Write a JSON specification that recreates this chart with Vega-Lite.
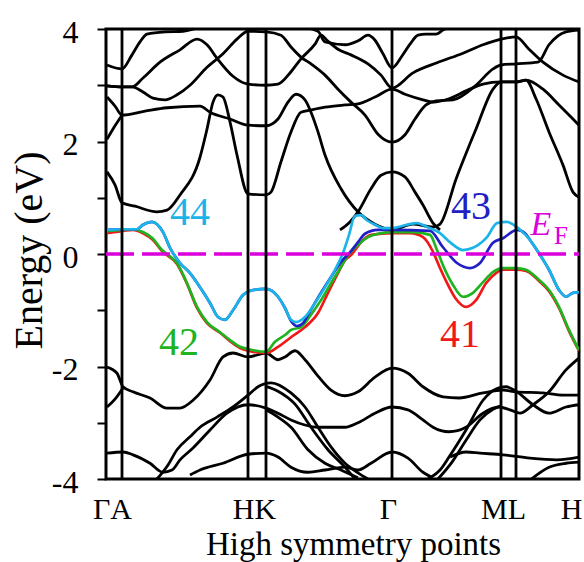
{
"$schema": "https://vega.github.io/schema/vega-lite/v6.json",
"width": 473, "height": 450,
"autosize": {"type": "none"},
"padding": {"left": 106, "top": 29, "right": 5, "bottom": 83},
"background": "white",
"config": {"view": {"stroke": "black", "strokeWidth": 3}},
"datasets": {
"bk": [
{"band":"c1","k":1,"e":1.46},{"band":"c1","k":9,"e":1.23},{"band":"c1","k":16,"e":0.91},{"band":"c1","k":29,"e":0.85},{"band":"c1","k":51,"e":0.75},{"band":"c1","k":61,"e":0.78},{"band":"c1","k":74,"e":1.05},{"band":"c1","k":94,"e":1.72},{"band":"c1","k":101,"e":2.22},{"band":"c1","k":107,"e":2.70},{"band":"c1","k":112,"e":2.83},{"band":"c1","k":117,"e":2.79},{"band":"c1","k":124,"e":2.35},{"band":"c1","k":131,"e":1.76},{"band":"c1","k":142,"e":1.07},{"band":"c1","k":160,"e":1.05},{"band":"c1","k":165,"e":1.10},{"band":"c1","k":175,"e":1.64},{"band":"c1","k":185,"e":2.17},{"band":"c1","k":195,"e":2.52},{"band":"c1","k":205,"e":2.56},{"band":"c1","k":219,"e":2.61},{"band":"c1","k":239,"e":2.65},{"band":"c1","k":252,"e":2.67},{"band":"c1","k":269,"e":2.79},{"band":"c1","k":286,"e":2.93},{"band":"c1","k":299,"e":2.84},{"band":"c1","k":317,"e":2.74},{"band":"c1","k":327,"e":2.70},{"band":"c1","k":343,"e":2.76},{"band":"c1","k":360,"e":2.90},{"band":"c1","k":377,"e":3.02},{"band":"c1","k":395,"e":3.06},{"band":"c1","k":410,"e":3.06},{"band":"c1","k":420,"e":3.09},{"band":"c1","k":430,"e":2.76},{"band":"c1","k":443,"e":2.17},{"band":"c1","k":457,"e":1.58},{"band":"c1","k":467,"e":1.10},{"band":"c1","k":473,"e":1.01},
{"band":"c2","k":1,"e":2.79},{"band":"c2","k":9,"e":2.63},{"band":"c2","k":16,"e":2.47},{"band":"c2","k":39,"e":2.54},{"band":"c2","k":61,"e":2.60},{"band":"c2","k":94,"e":2.63},{"band":"c2","k":104,"e":2.52},{"band":"c2","k":124,"e":2.40},{"band":"c2","k":142,"e":2.29},{"band":"c2","k":160,"e":2.28},{"band":"c2","k":172,"e":2.40},{"band":"c2","k":182,"e":2.70},{"band":"c2","k":190,"e":2.84},{"band":"c2","k":199,"e":2.74},{"band":"c2","k":205,"e":2.52},{"band":"c2","k":212,"e":2.17},{"band":"c2","k":219,"e":1.76},{"band":"c2","k":235,"e":1.16},{"band":"c2","k":252,"e":0.75},{"band":"c2","k":269,"e":0.53},{"band":"c2","k":286,"e":0.43},{"band":"c2","k":307,"e":0.53},{"band":"c2","k":327,"e":0.48},{"band":"c2","k":334,"e":0.53},{"band":"c2","k":350,"e":1.33},{"band":"c2","k":370,"e":2.22},{"band":"c2","k":387,"e":2.93},{"band":"c2","k":395,"e":3.06},{"band":"c2","k":410,"e":3.06},{"band":"c2","k":420,"e":3.09},{"band":"c2","k":437,"e":2.93},{"band":"c2","k":453,"e":2.65},{"band":"c2","k":467,"e":2.40},{"band":"c2","k":473,"e":2.29},
{"band":"c3","k":1,"e":2.04},{"band":"c3","k":9,"e":2.28},{"band":"c3","k":16,"e":2.47},
{"band":"c4","k":1,"e":2.99},{"band":"c4","k":16,"e":2.97},{"band":"c4","k":26,"e":2.97},{"band":"c4","k":37,"e":2.88},{"band":"c4","k":47,"e":2.77},{"band":"c4","k":59,"e":2.74},{"band":"c4","k":71,"e":2.83},{"band":"c4","k":84,"e":3.00},{"band":"c4","k":101,"e":3.32},{"band":"c4","k":117,"e":3.56},{"band":"c4","k":131,"e":3.82},{"band":"c4","k":142,"e":3.96},{"band":"c4","k":160,"e":3.95},{"band":"c4","k":175,"e":3.89},{"band":"c4","k":185,"e":3.68},{"band":"c4","k":195,"e":3.50},{"band":"c4","k":205,"e":3.38},{"band":"c4","k":219,"e":3.18},{"band":"c4","k":232,"e":2.93},{"band":"c4","k":245,"e":2.70},{"band":"c4","k":259,"e":2.47},{"band":"c4","k":272,"e":2.13},{"band":"c4","k":286,"e":1.99},{"band":"c4","k":299,"e":2.12},{"band":"c4","k":309,"e":2.40},{"band":"c4","k":320,"e":2.65},{"band":"c4","k":330,"e":2.72},{"band":"c4","k":347,"e":2.74},{"band":"c4","k":370,"e":3.00},{"band":"c4","k":387,"e":3.29},{"band":"c4","k":395,"e":3.36},{"band":"c4","k":410,"e":3.38},{"band":"c4","k":432,"e":3.41},{"band":"c4","k":443,"e":3.72},{"band":"c4","k":460,"e":3.95},{"band":"c4","k":473,"e":3.98},
{"band":"c5","k":1,"e":2.99},{"band":"c5","k":16,"e":2.97},{"band":"c5","k":26,"e":2.97},{"band":"c5","k":37,"e":3.13},{"band":"c5","k":54,"e":3.41},{"band":"c5","k":74,"e":3.63},{"band":"c5","k":91,"e":3.82},{"band":"c5","k":101,"e":3.72},{"band":"c5","k":111,"e":3.48},{"band":"c5","k":127,"e":3.16},{"band":"c5","k":142,"e":3.02},{"band":"c5","k":160,"e":3.00},{"band":"c5","k":172,"e":3.02},{"band":"c5","k":185,"e":3.24},{"band":"c5","k":195,"e":3.47},{"band":"c5","k":209,"e":3.73},{"band":"c5","k":215,"e":3.89},{"band":"c5","k":221,"e":3.80},{"band":"c5","k":232,"e":3.64},{"band":"c5","k":245,"e":3.54},{"band":"c5","k":262,"e":3.38},{"band":"c5","k":275,"e":3.18},{"band":"c5","k":286,"e":2.95},{"band":"c5","k":307,"e":3.22},{"band":"c5","k":331,"e":3.40},{"band":"c5","k":357,"e":3.57},{"band":"c5","k":377,"e":3.72},{"band":"c5","k":395,"e":3.82},{"band":"c5","k":410,"e":3.86},{"band":"c5","k":423,"e":3.64},{"band":"c5","k":437,"e":3.41},{"band":"c5","k":457,"e":3.18},{"band":"c5","k":473,"e":3.06},
{"band":"c6","k":1,"e":3.36},{"band":"c6","k":16,"e":3.29},{"band":"c6","k":26,"e":3.54},{"band":"c6","k":34,"e":3.77},{"band":"c6","k":41,"e":3.91},{"band":"c6","k":59,"e":3.95},{"band":"c6","k":77,"e":3.96},{"band":"c6","k":94,"e":4.04},
{"band":"c7","k":194,"e":4.04},{"band":"c7","k":212,"e":3.96},{"band":"c7","k":219,"e":3.77},{"band":"c7","k":239,"e":3.72},{"band":"c7","k":252,"e":3.79},{"band":"c7","k":262,"e":3.89},{"band":"c7","k":269,"e":3.80},{"band":"c7","k":277,"e":3.56},{"band":"c7","k":286,"e":3.31},{"band":"c7","k":296,"e":3.52},{"band":"c7","k":304,"e":3.73},{"band":"c7","k":312,"e":3.89},{"band":"c7","k":320,"e":3.91},{"band":"c7","k":330,"e":3.91},{"band":"c7","k":337,"e":3.98},{"band":"c7","k":344,"e":4.04},
{"band":"c8","k":234,"e":0.43},{"band":"c8","k":244,"e":0.57},{"band":"c8","k":252,"e":0.75},{"band":"c8","k":265,"e":1.16},{"band":"c8","k":275,"e":1.40},{"band":"c8","k":286,"e":1.46},{"band":"c8","k":299,"e":1.37},{"band":"c8","k":309,"e":1.10},{"band":"c8","k":317,"e":0.87},{"band":"c8","k":327,"e":0.55},{"band":"c8","k":334,"e":0.43},
{"band":"v1","k":1,"e":-2.01},{"band":"v1","k":11,"e":-2.12},{"band":"v1","k":17,"e":-2.36},{"band":"v1","k":27,"e":-2.45},{"band":"v1","k":44,"e":-2.56},{"band":"v1","k":61,"e":-2.74},{"band":"v1","k":74,"e":-2.74},{"band":"v1","k":87,"e":-2.60},{"band":"v1","k":104,"e":-2.24},{"band":"v1","k":117,"e":-1.83},{"band":"v1","k":127,"e":-1.76},{"band":"v1","k":142,"e":-1.83},{"band":"v1","k":160,"e":-1.76},{"band":"v1","k":172,"e":-1.88},{"band":"v1","k":179,"e":-1.83},{"band":"v1","k":189,"e":-1.72},{"band":"v1","k":199,"e":-1.88},{"band":"v1","k":212,"e":-2.17},{"band":"v1","k":225,"e":-2.42},{"band":"v1","k":239,"e":-2.52},{"band":"v1","k":252,"e":-2.45},{"band":"v1","k":269,"e":-2.19},{"band":"v1","k":286,"e":-2.03},{"band":"v1","k":302,"e":-2.12},{"band":"v1","k":317,"e":-2.36},{"band":"v1","k":337,"e":-2.54},{"band":"v1","k":353,"e":-2.56},{"band":"v1","k":377,"e":-2.47},{"band":"v1","k":397,"e":-2.42},{"band":"v1","k":410,"e":-2.45},{"band":"v1","k":437,"e":-2.47},{"band":"v1","k":457,"e":-2.51},{"band":"v1","k":473,"e":-2.51},
{"band":"v2","k":1,"e":-2.72},{"band":"v2","k":9,"e":-2.58},{"band":"v2","k":17,"e":-2.38},
{"band":"v3","k":51,"e":-4.00},{"band":"v3","k":62,"e":-3.75},{"band":"v3","k":71,"e":-3.48},{"band":"v3","k":84,"e":-3.25},{"band":"v3","k":94,"e":-3.08},{"band":"v3","k":111,"e":-2.90},{"band":"v3","k":127,"e":-2.72},{"band":"v3","k":142,"e":-2.51},{"band":"v3","k":152,"e":-2.36},{"band":"v3","k":165,"e":-2.29},{"band":"v3","k":185,"e":-2.47},{"band":"v3","k":199,"e":-2.72},{"band":"v3","k":212,"e":-3.08},{"band":"v3","k":225,"e":-3.43},{"band":"v3","k":239,"e":-3.72},{"band":"v3","k":252,"e":-3.89},{"band":"v3","k":262,"e":-4.00},
{"band":"v4","k":1,"e":-3.54},{"band":"v4","k":17,"e":-3.52},{"band":"v4","k":27,"e":-3.57},{"band":"v4","k":44,"e":-3.72},{"band":"v4","k":57,"e":-3.88},{"band":"v4","k":66,"e":-3.84},{"band":"v4","k":74,"e":-3.66},{"band":"v4","k":87,"e":-3.45},{"band":"v4","k":104,"e":-3.13},{"band":"v4","k":121,"e":-2.83},{"band":"v4","k":142,"e":-2.68},{"band":"v4","k":160,"e":-2.74},{"band":"v4","k":172,"e":-2.83},{"band":"v4","k":185,"e":-2.95},{"band":"v4","k":199,"e":-3.04},{"band":"v4","k":212,"e":-3.08},{"band":"v4","k":225,"e":-3.08},{"band":"v4","k":239,"e":-3.08},{"band":"v4","k":252,"e":-3.00},{"band":"v4","k":269,"e":-2.83},{"band":"v4","k":286,"e":-2.72},{"band":"v4","k":302,"e":-2.77},{"band":"v4","k":317,"e":-2.95},{"band":"v4","k":327,"e":-3.08},{"band":"v4","k":343,"e":-3.16},{"band":"v4","k":360,"e":-3.08},{"band":"v4","k":377,"e":-2.83},{"band":"v4","k":393,"e":-2.72},{"band":"v4","k":404,"e":-2.77},{"band":"v4","k":414,"e":-2.83},{"band":"v4","k":427,"e":-2.68},{"band":"v4","k":443,"e":-2.45},{"band":"v4","k":460,"e":-2.06},{"band":"v4","k":473,"e":-1.85},
{"band":"v5","k":160,"e":-2.77},{"band":"v5","k":172,"e":-2.90},{"band":"v5","k":185,"e":-3.08},{"band":"v5","k":202,"e":-3.48},{"band":"v5","k":219,"e":-3.72},{"band":"v5","k":235,"e":-3.84},{"band":"v5","k":252,"e":-3.98},
{"band":"v6","k":84,"e":-3.93},{"band":"v6","k":94,"e":-3.84},{"band":"v6","k":117,"e":-3.72},{"band":"v6","k":142,"e":-3.56},{"band":"v6","k":160,"e":-3.54},{"band":"v6","k":172,"e":-3.61},{"band":"v6","k":185,"e":-3.79},{"band":"v6","k":202,"e":-3.88},{"band":"v6","k":219,"e":-3.84},{"band":"v6","k":239,"e":-3.79},{"band":"v6","k":252,"e":-3.84},{"band":"v6","k":265,"e":-3.72},{"band":"v6","k":286,"e":-3.52},{"band":"v6","k":302,"e":-3.63},{"band":"v6","k":317,"e":-3.88},{"band":"v6","k":327,"e":-3.98},
{"band":"v7","k":322,"e":-4.00},{"band":"v7","k":334,"e":-3.84},{"band":"v7","k":343,"e":-3.61},{"band":"v7","k":360,"e":-3.13},{"band":"v7","k":377,"e":-2.60},{"band":"v7","k":390,"e":-2.40},{"band":"v7","k":400,"e":-2.36},{"band":"v7","k":410,"e":-2.44},{"band":"v7","k":427,"e":-2.68},{"band":"v7","k":443,"e":-2.83},{"band":"v7","k":460,"e":-2.72},{"band":"v7","k":473,"e":-2.68},
{"band":"v8","k":332,"e":-4.00},{"band":"v8","k":346,"e":-3.70},{"band":"v8","k":360,"e":-3.31},{"band":"v8","k":374,"e":-2.95},{"band":"v8","k":387,"e":-2.76},{"band":"v8","k":395,"e":-2.70},
{"band":"v9","k":344,"e":-3.61},{"band":"v9","k":360,"e":-3.52},{"band":"v9","k":374,"e":-3.54},{"band":"v9","k":397,"e":-3.57},{"band":"v9","k":424,"e":-3.63},{"band":"v9","k":451,"e":-3.66},{"band":"v9","k":473,"e":-3.61},
{"band":"v10","k":424,"e":-4.02},{"band":"v10","k":443,"e":-3.79},{"band":"v10","k":460,"e":-3.72},{"band":"v10","k":473,"e":-3.70},
{"band":"v11","k":159,"e":-2.35},{"band":"v11","k":172,"e":-2.44},{"band":"v11","k":189,"e":-2.67},{"band":"v11","k":205,"e":-3.08},{"band":"v11","k":222,"e":-3.48},{"band":"v11","k":239,"e":-3.79},{"band":"v11","k":249,"e":-4.00}
],
"col": [
{"band":"41","k":1,"e":0.37},{"band":"41","k":17,"e":0.41},{"band":"41","k":27,"e":0.43},{"band":"41","k":37,"e":0.37},{"band":"41","k":47,"e":0.25},{"band":"41","k":56,"e":0.05},{"band":"41","k":71,"e":-0.18},{"band":"41","k":81,"e":-0.53},{"band":"41","k":91,"e":-0.96},{"band":"41","k":101,"e":-1.23},{"band":"41","k":114,"e":-1.40},{"band":"41","k":124,"e":-1.55},{"band":"41","k":134,"e":-1.67},{"band":"41","k":142,"e":-1.72},{"band":"41","k":160,"e":-1.76},{"band":"41","k":172,"e":-1.65},{"band":"41","k":185,"e":-1.48},{"band":"41","k":199,"e":-1.30},{"band":"41","k":212,"e":-1.05},{"band":"41","k":222,"e":-0.69},{"band":"41","k":232,"e":-0.34},{"band":"41","k":239,"e":-0.11},{"band":"41","k":245,"e":-0.02},{"band":"41","k":255,"e":0.21},{"band":"41","k":265,"e":0.34},{"band":"41","k":286,"e":0.37},{"band":"41","k":304,"e":0.37},{"band":"41","k":317,"e":0.30},{"band":"41","k":327,"e":0.04},{"band":"41","k":334,"e":-0.25},{"band":"41","k":342,"e":-0.55},{"band":"41","k":350,"e":-0.80},{"band":"41","k":360,"e":-0.94},{"band":"41","k":370,"e":-0.82},{"band":"41","k":380,"e":-0.52},{"band":"41","k":390,"e":-0.34},{"band":"41","k":397,"e":-0.28},{"band":"41","k":410,"e":-0.28},{"band":"41","k":420,"e":-0.30},{"band":"41","k":433,"e":-0.48},{"band":"41","k":443,"e":-0.66},{"band":"41","k":453,"e":-0.96},{"band":"41","k":463,"e":-1.37},{"band":"41","k":473,"e":-1.72},
{"band":"42","k":1,"e":0.41},{"band":"42","k":17,"e":0.43},{"band":"42","k":27,"e":0.44},{"band":"42","k":37,"e":0.39},{"band":"42","k":47,"e":0.27},{"band":"42","k":56,"e":0.07},{"band":"42","k":64,"e":-0.04},{"band":"42","k":71,"e":-0.16},{"band":"42","k":81,"e":-0.52},{"band":"42","k":91,"e":-0.94},{"band":"42","k":101,"e":-1.21},{"band":"42","k":114,"e":-1.39},{"band":"42","k":124,"e":-1.53},{"band":"42","k":134,"e":-1.65},{"band":"42","k":142,"e":-1.69},{"band":"42","k":160,"e":-1.74},{"band":"42","k":169,"e":-1.56},{"band":"42","k":179,"e":-1.44},{"band":"42","k":185,"e":-1.35},{"band":"42","k":195,"e":-1.30},{"band":"42","k":205,"e":-1.08},{"band":"42","k":215,"e":-0.82},{"band":"42","k":225,"e":-0.52},{"band":"42","k":235,"e":-0.23},{"band":"42","k":242,"e":-0.02},{"band":"42","k":252,"e":0.16},{"band":"42","k":262,"e":0.30},{"band":"42","k":272,"e":0.36},{"band":"42","k":286,"e":0.39},{"band":"42","k":307,"e":0.39},{"band":"42","k":324,"e":0.34},{"band":"42","k":331,"e":0.07},{"band":"42","k":337,"e":-0.20},{"band":"42","k":347,"e":-0.55},{"band":"42","k":357,"e":-0.76},{"band":"42","k":367,"e":-0.69},{"band":"42","k":377,"e":-0.50},{"band":"42","k":387,"e":-0.32},{"band":"42","k":397,"e":-0.25},{"band":"42","k":410,"e":-0.25},{"band":"42","k":420,"e":-0.28},{"band":"42","k":433,"e":-0.46},{"band":"42","k":443,"e":-0.64},{"band":"42","k":453,"e":-0.94},{"band":"42","k":463,"e":-1.35},{"band":"42","k":473,"e":-1.71},
{"band":"43","k":1,"e":0.43},{"band":"43","k":17,"e":0.44},{"band":"43","k":31,"e":0.44},{"band":"43","k":37,"e":0.52},{"band":"43","k":46,"e":0.57},{"band":"43","k":51,"e":0.53},{"band":"43","k":57,"e":0.39},{"band":"43","k":64,"e":0.11},{"band":"43","k":74,"e":-0.16},{"band":"43","k":84,"e":-0.34},{"band":"43","k":94,"e":-0.59},{"band":"43","k":104,"e":-0.87},{"band":"43","k":112,"e":-1.12},{"band":"43","k":119,"e":-1.17},{"band":"43","k":127,"e":-1.00},{"band":"43","k":137,"e":-0.73},{"band":"43","k":147,"e":-0.64},{"band":"43","k":160,"e":-0.62},{"band":"43","k":172,"e":-0.76},{"band":"43","k":179,"e":-0.96},{"band":"43","k":185,"e":-1.19},{"band":"43","k":191,"e":-1.28},{"band":"43","k":197,"e":-1.23},{"band":"43","k":202,"e":-1.08},{"band":"43","k":215,"e":-0.69},{"band":"43","k":225,"e":-0.41},{"band":"43","k":235,"e":-0.14},{"band":"43","k":245,"e":0.05},{"band":"43","k":252,"e":0.21},{"band":"43","k":259,"e":0.36},{"band":"43","k":272,"e":0.43},{"band":"43","k":286,"e":0.43},{"band":"43","k":324,"e":0.41},{"band":"43","k":337,"e":0.12},{"band":"43","k":351,"e":-0.16},{"band":"43","k":364,"e":-0.25},{"band":"43","k":374,"e":-0.16},{"band":"43","k":387,"e":0.20},{"band":"43","k":397,"e":0.28},{"band":"43","k":411,"e":0.43},{"band":"43","k":419,"e":0.37},{"band":"43","k":424,"e":0.25},{"band":"43","k":432,"e":0.04},{"band":"43","k":443,"e":-0.28},{"band":"43","k":453,"e":-0.64},{"band":"43","k":460,"e":-0.76},{"band":"43","k":467,"e":-0.69},{"band":"43","k":473,"e":-0.68},
{"band":"44","k":1,"e":0.43},{"band":"44","k":17,"e":0.44},{"band":"44","k":31,"e":0.44},{"band":"44","k":37,"e":0.52},{"band":"44","k":46,"e":0.57},{"band":"44","k":51,"e":0.53},{"band":"44","k":57,"e":0.39},{"band":"44","k":64,"e":0.11},{"band":"44","k":74,"e":-0.16},{"band":"44","k":84,"e":-0.34},{"band":"44","k":94,"e":-0.59},{"band":"44","k":104,"e":-0.87},{"band":"44","k":112,"e":-1.12},{"band":"44","k":119,"e":-1.17},{"band":"44","k":127,"e":-1.00},{"band":"44","k":137,"e":-0.73},{"band":"44","k":147,"e":-0.64},{"band":"44","k":160,"e":-0.62},{"band":"44","k":172,"e":-0.76},{"band":"44","k":179,"e":-0.96},{"band":"44","k":185,"e":-1.17},{"band":"44","k":190,"e":-1.21},{"band":"44","k":199,"e":-1.12},{"band":"44","k":209,"e":-0.87},{"band":"44","k":219,"e":-0.59},{"band":"44","k":229,"e":-0.28},{"band":"44","k":237,"e":0.02},{"band":"44","k":243,"e":0.34},{"band":"44","k":249,"e":0.68},{"band":"44","k":255,"e":0.69},{"band":"44","k":261,"e":0.60},{"band":"44","k":269,"e":0.52},{"band":"44","k":277,"e":0.46},{"band":"44","k":286,"e":0.46},{"band":"44","k":301,"e":0.52},{"band":"44","k":311,"e":0.55},{"band":"44","k":321,"e":0.48},{"band":"44","k":334,"e":0.37},{"band":"44","k":344,"e":0.21},{"band":"44","k":357,"e":0.07},{"band":"44","k":367,"e":0.11},{"band":"44","k":381,"e":0.30},{"band":"44","k":391,"e":0.55},{"band":"44","k":401,"e":0.57},{"band":"44","k":414,"e":0.43},{"band":"44","k":424,"e":0.25},{"band":"44","k":432,"e":0.04},{"band":"44","k":443,"e":-0.28},{"band":"44","k":453,"e":-0.64},{"band":"44","k":460,"e":-0.76},{"band":"44","k":467,"e":-0.69},{"band":"44","k":473,"e":-0.68}
],
"sym": [
{"point":"A","k":16,"e":-4,"e2":4},{"point":"H","k":142,"e":-4,"e2":4},{"point":"K","k":160,"e":-4,"e2":4},{"point":"Γ","k":286,"e":-4,"e2":4},{"point":"M","k":395,"e":-4,"e2":4},{"point":"L","k":410,"e":-4,"e2":4}
],
"fermi": [{"k":0,"k2":473,"e":0}],
"labs": [{"band":"44","k":84,"e":0.52},{"band":"43","k":365,"e":0.62},{"band":"42","k":73,"e":-1.80},{"band":"41","k":354,"e":-1.65}]
},
"encoding": {
"x": {"field":"k","type":"quantitative","scale":{"domain":[0,473],"nice":false,"zero":false},
 "axis":{"values":[6,148,282,397,465],"labelExpr":"datum.value==6?'ΓA':datum.value==148?'HK':datum.value==282?'Γ':datum.value==397?'ML':'H'","labelFont":"Liberation Serif, Times New Roman, serif","labelFontSize":30,"labelColor":"black","labelBaseline":"alphabetic","labelPadding":39,"labelFlush":false,"labelOverlap":false,"ticks":false,"tickSize":0,"domain":false,"grid":false,"title":"High symmetry points","titleFont":"Liberation Serif, Times New Roman, serif","titleFontSize":33,"titleFontWeight":"normal","titleColor":"black","titleX":247,"titleY":75,"titleAlign":"center","titleBaseline":"alphabetic"}},
"y": {"field":"e","type":"quantitative","scale":{"domain":[-4,4],"nice":false,"zero":false},
 "axis":{"values":[-4,-3,-2,-1,0,1,2,3,4],"labelExpr":"datum.value % 2 == 0 ? (datum.value < 0 ? '-' + abs(datum.value) : '' + datum.value) : ''","labelFont":"Liberation Serif, Times New Roman, serif","labelFontSize":32,"labelColor":"black","labelPadding":19,"labelOffset":3,"labelFlush":false,"labelOverlap":false,"ticks":true,"tickSize":9,"tickWidth":2,"tickColor":"black","domain":false,"grid":false,"title":"Energy (eV)","titleFont":"Liberation Serif, Times New Roman, serif","titleFontSize":40,"titleFontWeight":"normal","titleColor":"black","titleX":-77,"titleY":221,"titleAngle":270,"titleAlign":"center","titleBaseline":"middle"}}
},
"layer": [
{"data":{"name":"bk"},"mark":{"type":"line","color":"black","strokeWidth":2.8,"interpolate":"monotone","clip":true},"encoding":{"detail":{"field":"band"}}},
{"data":{"name":"col"},"transform":[{"filter":"datum.band == '41'"}],"mark":{"type":"line","color":"#f01818","strokeWidth":2.7,"interpolate":"monotone","clip":true},"encoding":{}},
{"data":{"name":"col"},"transform":[{"filter":"datum.band == '42'"}],"mark":{"type":"line","color":"#1fb31f","strokeWidth":2.7,"interpolate":"monotone","clip":true},"encoding":{}},
{"data":{"name":"col"},"transform":[{"filter":"datum.band == '43'"}],"mark":{"type":"line","color":"#2020c4","strokeWidth":2.7,"interpolate":"monotone","clip":true},"encoding":{}},
{"data":{"name":"col"},"transform":[{"filter":"datum.band == '44'"}],"mark":{"type":"line","color":"#1cb4e8","strokeWidth":2.7,"interpolate":"monotone","clip":true},"encoding":{}},
{"data":{"name":"fermi"},"mark":{"type":"rule","color":"#dc00dc","strokeWidth":3.5,"strokeDash":[28,8]},"encoding":{"x2":{"field":"k2"}}},
{"data":{"name":"sym"},"mark":{"type":"rule","color":"black","strokeWidth":2.8},"encoding":{"y2":{"field":"e2"}}},
{"data":{"name":"labs"},"mark":{"type":"text","font":"Liberation Serif, Times New Roman, serif","fontSize":40,"align":"center","baseline":"alphabetic"},"encoding":{"text":{"field":"band"},"color":{"field":"band","type":"nominal","scale":{"domain":["41","42","43","44"],"range":["#f01818","#1fb31f","#2020c4","#1cb4e8"]},"legend":null}}},
{"data":{"values":[{"t":"E","k":435,"e":0.34}]},"mark":{"type":"text","font":"Liberation Serif, Times New Roman, serif","fontSize":34,"fontStyle":"italic","align":"center","baseline":"alphabetic","color":"#dc00dc"},"encoding":{"text":{"field":"t"}}},
{"data":{"values":[{"t":"F","k":455,"e":0.18}]},"mark":{"type":"text","font":"Liberation Serif, Times New Roman, serif","fontSize":25,"align":"center","baseline":"alphabetic","color":"#dc00dc"},"encoding":{"text":{"field":"t"}}}
]
}
